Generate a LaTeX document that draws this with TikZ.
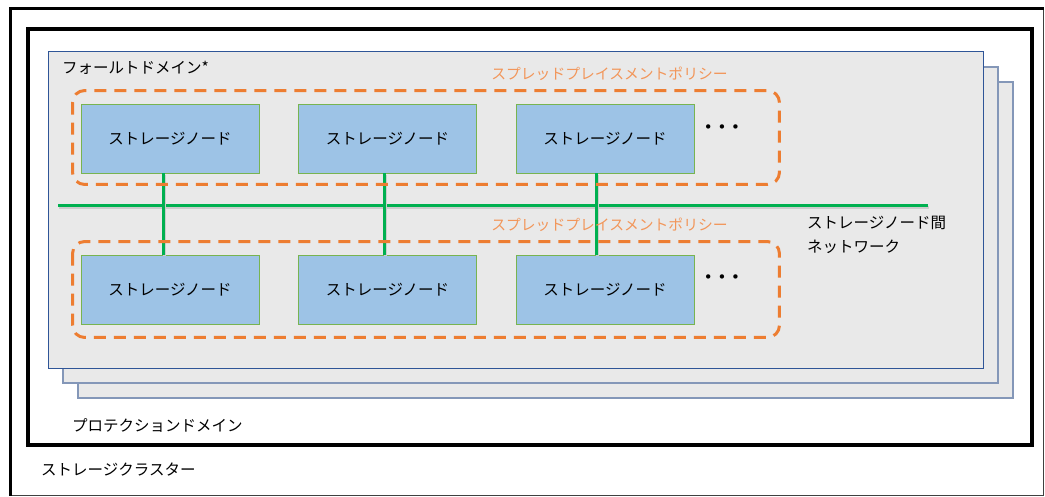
\documentclass[tikz,border=0pt]{standalone}
\usepackage{fontspec}
\setmainfont{Noto Sans CJK JP}
\newfontfamily\dotfont{DejaVu Sans}
\usepackage{tikz}
\usetikzlibrary{calc}
\usetikzlibrary{positioning}

\definecolor{panelgray}{RGB}{233,233,233}
\definecolor{panelblue}{RGB}{47,85,151}
\definecolor{backblue}{RGB}{132,151,184}
\definecolor{nodeblue}{RGB}{157,195,230}
\definecolor{nodegreen}{RGB}{120,180,80}
\definecolor{netgreen}{RGB}{0,176,80}
\definecolor{policyorange}{RGB}{237,125,49}
\definecolor{policytext}{RGB}{242,150,90}

\tikzset{
  panel/.style={fill=panelgray,draw=panelblue,line width=1pt},
  backpanel/.style={fill=panelgray,draw=backblue,line width=1.3pt},
  snode/.style={draw=nodegreen,fill=nodeblue,line width=0.9pt,minimum width=178pt,minimum height=69pt},
  policy/.style={draw=policyorange,line width=3pt,dash pattern=on 12pt off 8pt,rounded corners=12pt},
  net/.style={draw=netgreen,line width=3pt,preaction={draw=black!20,line width=3pt,transform canvas={shift={(1.2pt,-1.2pt)}}}},
}

\begin{document}
\begin{tikzpicture}[x=1pt,y=-1pt,node distance=217.5pt,
    every node/.style={inner sep=0pt,font=\fontsize{15.5}{18}\selectfont}]
  \useasboundingbox (0,0) rectangle (1045,497);

  \draw[line width=1.5pt,draw=black!75] (10.5,8.5) rectangle (1043.5,495.5);
  \draw[line width=3pt] (10.5,495.5) -- (10.5,8.5) -- (1043.5,8.5);
  \draw node[anchor=west] (clu) at (41,470) {ストレージクラスター};

  \draw[line width=3.5pt] (28,29) rectangle (1032,445);
  \draw node[anchor=west] (pd) at (72,425) {プロテクションドメイン};

  \draw[backpanel] (78,82) rectangle (1013,398);
  \draw[backpanel] (63,67) rectangle (998,383);
  \draw[panel] (48,52) rectangle (983,368);
  \draw node[anchor=west] (fd) at (62,68) {フォールトドメイン*};

  \draw node[snode] (sa) at (170,138.5) {ストレージノード};
  \draw node[snode,right of=sa] (sb) {ストレージノード};
  \draw node[snode,right of=sb] (sc) {ストレージノード};
  \draw node[snode,below of=sa,yshift=66.5pt] (sd) {ストレージノード};
  \draw node[snode,right of=sd] (se) {ストレージノード};
  \draw node[snode,right of=se] (sf) {ストレージノード};
  \draw node[font=\dotfont\fontsize{15}{18}\selectfont] (dta) at (722,129) {• • •};
  \draw node[font=\dotfont\fontsize{15}{18}\selectfont] (dtb) at (722,279) {• • •};

  \coordinate (nl) at (58,206);
  \coordinate (nr) at (928,206);
  \draw[net] (nl) -- (nr);
  \draw[net] ([xshift=-7pt]sa.south) -- ([xshift=-7pt]sd.north);
  \draw[net] ([xshift=-3pt]sb.south) -- ([xshift=-3pt]se.north);
  \draw[net] ([xshift=-9pt]sc.south) -- ([xshift=-9pt]sf.north);
  \draw node[anchor=west,align=left,font=\fontsize{15.5}{24}\selectfont] (tnet) at (807,235)
    {ストレージノード間\\ネットワーク};

  \draw[policy] ($(sa.north west)+(-8,-13)$) rectangle ($(sc.south east)+(85,11)$);
  \draw[policy] ($(sd.north west)+(-8,-13)$) rectangle ($(sf.south east)+(85,13)$);
  \draw node[text=policytext,font=\fontsize{14.8}{18}\selectfont] (pta) at (609.5,74) {スプレッドプレイスメントポリシー};
  \draw node[text=policytext,font=\fontsize{14.8}{18}\selectfont] (ptb) at (609.5,225) {スプレッドプレイスメントポリシー};

\end{tikzpicture}
\end{document}
